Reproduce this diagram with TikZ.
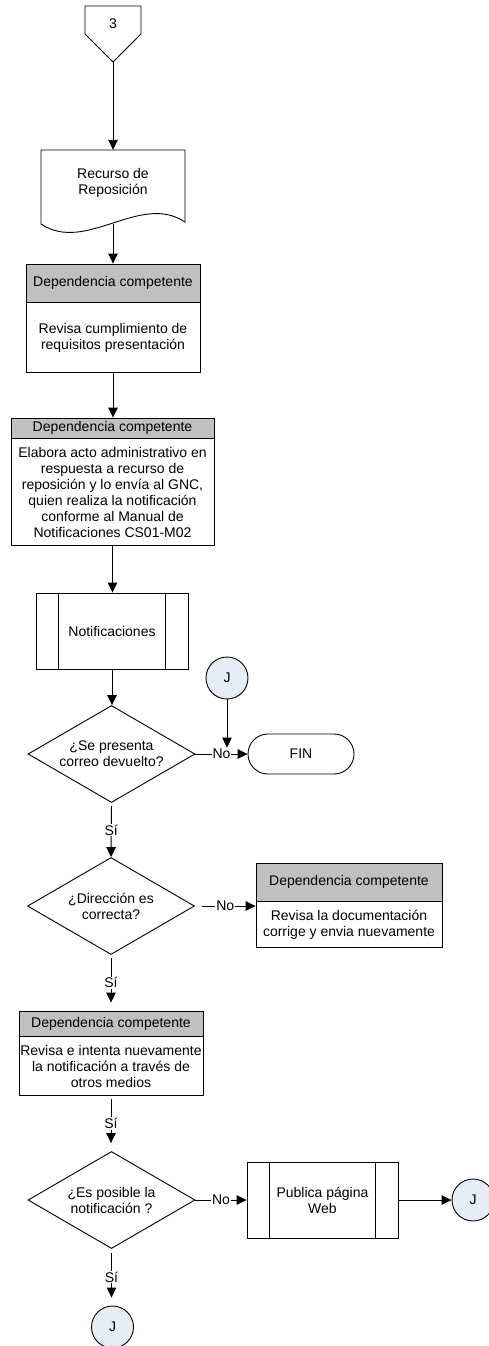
\documentclass[tikz,border=0pt]{standalone}
\usepackage{fontspec}
\setmainfont{Liberation Sans}
\usetikzlibrary{arrows.meta,shapes.geometric,positioning}
\definecolor{hdrgray}{RGB}{192,192,192}
\definecolor{conblue}{RGB}{230,236,248}

\begin{document}
\begin{tikzpicture}[x=1pt,y=-1pt,
  every node/.style={font=\fontsize{14}{16}\selectfont,align=center},
  line/.style={line width=0.9pt},
  arr/.style={line width=0.9pt,-{Triangle[length=10pt,width=9.5pt]}},
  hdr/.style={draw,line width=0.9pt,fill=hdrgray,inner sep=0pt},
  body/.style={draw,line width=0.9pt,inner sep=1pt},
  decision/.style={draw,line width=0.9pt,diamond,aspect=1.74,inner sep=0pt,minimum width=167pt,minimum height=97pt},
  predproc/.style={draw,line width=0.9pt,minimum width=152pt,minimum height=76pt,
    path picture={\draw[line width=0.9pt]
      ([xshift=22.5pt]path picture bounding box.north west) -- ([xshift=22.5pt]path picture bounding box.south west)
      ([xshift=-22.5pt]path picture bounding box.north east) -- ([xshift=-22.5pt]path picture bounding box.south east);}},
  connector/.style={draw,line width=0.9pt,circle,fill=conblue,minimum size=42pt,inner sep=0pt},
  terminal/.style={draw,line width=0.9pt,rounded corners=20pt,minimum width=106pt,minimum height=40pt},
  lbl/.style={fill=white,inner sep=1pt}]
\useasboundingbox (0,0) rectangle (489,1346);

\node (c3) at (113,24) {3};
\draw[line] (85,6) -- (141,6) -- (141,34) -- (113,62) -- (85,34) -- cycle;
\coordinate (c3b) at (113,62);

\node[minimum width=144pt,minimum height=66pt] (rec) at (113,183) {Recurso de\\Reposición};
\draw[line] (41,150) -- (185,150) -- (185,222) .. controls (140,192) and (86,254) .. (41,224) -- cycle;
\coordinate (recb) at (113,224);

\node[hdr,minimum width=174pt,minimum height=38pt] (h1) at (113,283) {Dependencia competente};
\node[body,minimum width=174pt,minimum height=70pt,anchor=north] (b1) at (h1.south) {Revisa cumplimiento de\\requisitos presentación};

\node[hdr,minimum width=203pt,minimum height=20pt] (h2) at (112.5,428) {Dependencia competente};
\node[body,minimum width=203pt,minimum height=107pt,anchor=north] (b2) at (h2.south) {Elabora acto administrativo en\\respuesta a recurso de\\reposición y lo envía al GNC,\\quien realiza la notificación\\conforme al Manual de\\Notificaciones CS01-M02};

\node[predproc] (np1) at (112,631) {Notificaciones};
\node[decision] (d1) at (111.5,754) {¿Se presenta\\correo devuelto?};
\node[connector] (j1) at (227,678) {J};
\node[terminal] (fin) at (301,754) {FIN};

\node[decision] (d2) at (111,906) {¿Dirección es\\correcta?};
\node[hdr,minimum width=186pt,minimum height=38pt] (h3) at (349,882) {Dependencia competente};
\node[body,minimum width=186pt,minimum height=46pt,anchor=north] (b3) at (h3.south) {Revisa la documentación\\corrige y envia nuevamente};

\node[hdr,minimum width=184pt,minimum height=25pt] (h4) at (111,1023.5) {Dependencia competente};
\node[body,minimum width=184pt,minimum height=59pt,anchor=north] (b4) at (h4.south) {Revisa e intenta nuevamente\\la notificación a través de\\otros medios};

\node[decision] (d3) at (111.5,1200) {¿Es posible la\\notificación ?};
\node[predproc,minimum width=151pt] (np2) at (322.5,1200) {Publica página\\Web};
\node[connector] (j2) at (473,1200) {J};
\node[connector] (j3) at (112.5,1327) {J};

\draw[arr] (c3b) -- (rec.north);
\draw[arr] (recb) -- (h1.north);
\draw[arr] (b1.south) -- (b1.south |- h2.north);
\draw[arr] (b2.south) -- (b2.south |- np1.north);
\draw[arr] (np1.south) -- (np1.south |- d1.north);
\draw[arr] (d1.east) -- node[lbl] (no1) {No} (fin.west);
\draw[arr] (j1.south) -- (j1.south |- no1.north);
\draw[arr,shorten <=3pt] (d1.south) -- node[lbl] {Sí} (d2.north);
\draw[arr,shorten <=7pt] (d2.east) -- node[lbl] {No} (d2.east -| b3.west);
\draw[arr,shorten <=3pt,shorten >=8pt] (d2.south) -- node[lbl] {Sí} (h4.north);
\draw[arr,shorten <=3pt,shorten >=8pt] (b4.south) -- node[lbl] {Sí} (b4.south |- d3.north);
\draw[arr] (d3.east) -- node[lbl] {No} (np2.west);
\draw[arr] (np2.east) -- (j2.west);
\draw[arr,shorten <=4pt,shorten >=8pt] (d3.south) -- node[lbl] {Sí} (d3.south |- j3.north);
\end{tikzpicture}
\end{document}
